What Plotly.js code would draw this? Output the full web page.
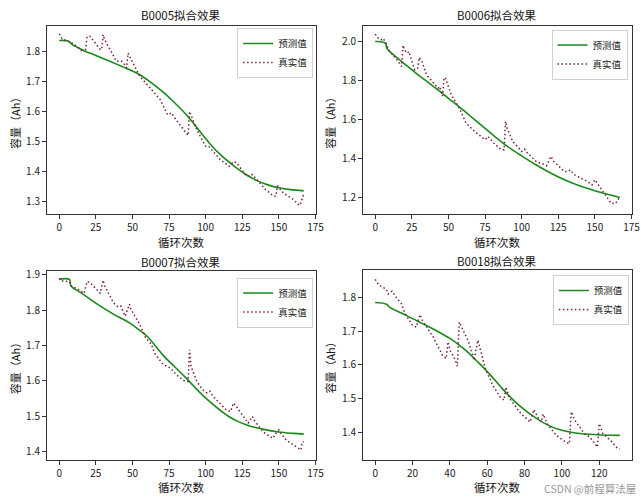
<!DOCTYPE html>
<html>
<head>
<meta charset="utf-8">
<script src="https://cdn.plot.ly/plotly-3.0.1.min.js"></script>
<style>html,body{margin:0;padding:0;background:#fff;}#chart{width:643px;height:500px;}</style>
</head>
<body>
<div id="chart"></div>
<script>
// ---- data ----
const titles = ["B0005拟合效果", "B0006拟合效果", "B0007拟合效果", "B0018拟合效果"];
const seriesNames = ["预测值", "真实值"];

const b5TrueX = [0,2,6,10,15,18,19,21,28,29,30,31,39,43,46,47,48,53,55,61,69,74,77,78,87,88,89,91,94,100,102,110,116,119,121,128,132,141,146,148,149,153,160,164,165,167];
const b5TrueY = [1.858,1.841,1.833,1.825,1.803,1.806,1.848,1.850,1.806,1.806,1.855,1.839,1.767,1.767,1.745,1.794,1.783,1.733,1.717,1.684,1.639,1.589,1.595,1.584,1.525,1.520,1.600,1.578,1.539,1.484,1.484,1.440,1.418,1.433,1.430,1.384,1.390,1.340,1.320,1.318,1.353,1.329,1.307,1.287,1.296,1.326];
const b5PredX = [0,6,9,17,25,35,46,55,63,71,79,87,95,103,111,119,127,135,143,150,158,167];
const b5PredY = [1.836,1.834,1.822,1.802,1.786,1.766,1.743,1.722,1.695,1.664,1.628,1.588,1.540,1.492,1.452,1.420,1.392,1.370,1.355,1.346,1.340,1.336];

const b6TrueX = [0,2,4,5,6,8,9,11,13,16,17,18,19,20,22,23,24,27,29,30,32,35,41,43,44,46,47,48,52,58,62,68,75,77,81,86,88,89,90,94,100,102,104,110,116,117,120,122,129,132,133,136,145,148,150,153,157,161,164,166,167];
const b6TrueY = [2.038,2.017,2.009,2.017,2.009,1.983,1.957,1.940,1.923,1.897,1.880,1.872,1.981,1.957,1.940,1.949,1.923,1.854,1.863,1.918,1.897,1.829,1.777,1.760,1.769,1.720,1.815,1.810,1.726,1.649,1.580,1.537,1.495,1.512,1.478,1.443,1.443,1.589,1.555,1.486,1.435,1.447,1.426,1.383,1.366,1.361,1.409,1.383,1.332,1.332,1.340,1.315,1.280,1.263,1.289,1.255,1.212,1.169,1.166,1.190,1.186];
const b6PredX = [0,5,7,8,10,14,20,25,30,37,44,50,58,66,75,83,90,100,110,120,130,140,150,160,167];
const b6PredY = [2.000,1.998,1.990,1.965,1.948,1.922,1.885,1.855,1.825,1.785,1.745,1.708,1.660,1.610,1.553,1.503,1.462,1.412,1.365,1.323,1.287,1.257,1.233,1.212,1.198];

const b7TrueX = [0,1,7,8,12,15,17,19,21,25,28,30,31,37,40,42,45,48,49,55,59,63,65,71,76,80,86,88,89,90,94,98,101,103,105,114,117,119,121,129,132,133,139,144,146,148,150,151,155,162,165,166,167];
const b7TrueY = [1.890,1.883,1.881,1.869,1.861,1.854,1.848,1.881,1.878,1.861,1.848,1.885,1.869,1.821,1.810,1.812,1.783,1.817,1.802,1.760,1.722,1.703,1.679,1.646,1.636,1.617,1.598,1.598,1.688,1.641,1.598,1.575,1.565,1.570,1.556,1.518,1.513,1.537,1.527,1.480,1.499,1.489,1.456,1.442,1.437,1.451,1.461,1.453,1.432,1.413,1.404,1.427,1.427];
const b7PredX = [0,7,8,15,26,37,48,55,60,66,71,77,82,87,93,99,105,111,116,122,130,139,150,160,167];
const b7PredY = [1.888,1.887,1.869,1.849,1.817,1.789,1.764,1.743,1.726,1.697,1.672,1.647,1.627,1.606,1.580,1.555,1.533,1.513,1.498,1.485,1.472,1.463,1.455,1.451,1.449];

const b18TrueX = [0,2,6,7,9,11,14,16,20,22,24,25,31,36,38,39,40,43,44,45,50,53,55,57,59,63,67,69,70,72,78,83,85,87,89,90,92,97,102,104,105,107,112,115,119,120,122,126,130,131];
const b18TrueY = [1.855,1.838,1.825,1.811,1.820,1.803,1.783,1.753,1.718,1.713,1.750,1.735,1.684,1.629,1.619,1.669,1.644,1.614,1.596,1.728,1.669,1.614,1.674,1.634,1.589,1.539,1.504,1.495,1.534,1.500,1.455,1.430,1.467,1.445,1.430,1.453,1.425,1.390,1.370,1.365,1.460,1.435,1.395,1.385,1.355,1.425,1.395,1.375,1.350,1.350];
const b18PredX = [0,6,8,14,20,29,35,40,45,50,54,58,61,65,68,74,80,86,92,98,105,112,119,131];
const b18PredY = [1.786,1.781,1.771,1.755,1.738,1.713,1.695,1.679,1.659,1.636,1.614,1.592,1.574,1.549,1.530,1.495,1.466,1.442,1.422,1.408,1.399,1.394,1.392,1.390];

const predX = [b5PredX, b6PredX, b7PredX, b18PredX];
const predY = [b5PredY, b6PredY, b7PredY, b18PredY];
const trueX = [b5TrueX, b6TrueX, b7TrueX, b18TrueX];
const trueY = [b5TrueY, b6TrueY, b7TrueY, b18TrueY];

const xTitle = "循环次数";
const yTitle = "容量（Ah）";
const watermark = "CSDN @前程算法屋";

// ---- layout geometry ----
const FONT = '"Noto Sans CJK SC", "Noto Sans", sans-serif';
const xDomains = [[0.0731,0.4914],[0.5645,0.9829],[0.0731,0.4914],[0.5645,0.9829]];
const yDomains = [[0.572,0.948],[0.572,0.948],[0.081,0.458],[0.081,0.46]];
const xRanges = [[-8.35,175.35],[-8.35,175.35],[-8.35,175.35],[-6.55,137.55]];
const yRanges = [[1.259,1.884],[1.113,2.080],[1.377,1.911],[1.318,1.883]];
const xDticks = [25,25,25,20];
const yDticks = [0.1,0.2,0.1,0.1];
const legendPos = [[0.487,0.944],[0.976,0.941],[0.487,0.445],[0.978,0.450]];
const titleY = [0.970,0.970,0.476,0.478];
const xTitleY = [0.516,0.516,0.027,0.027];
const yTitleX = [0.0233,0.513,0.0233,0.513];

const traces = [];
const layout = {
  width: 643, height: 500,
  margin: {l:0, r:0, t:0, b:0},
  paper_bgcolor: '#fff', plot_bgcolor: '#fff',
  font: {family: FONT, size: 10, color: '#222'},
  showlegend: true,
  annotations: []
};

for (let i = 0; i < 4; i++) {
  const s = i === 0 ? '' : String(i + 1);
  const leg = i === 0 ? 'legend' : 'legend' + (i + 1);
  traces.push({
    x: predX[i], y: predY[i], type: 'scatter', mode: 'lines', name: seriesNames[0],
    xaxis: 'x' + s, yaxis: 'y' + s, legend: leg,
    line: {color: '#1a8a1a', width: 1.6, shape: 'spline', smoothing: 1}
  });
  traces.push({
    x: trueX[i], y: trueY[i], type: 'scatter', mode: 'lines', name: seriesNames[1],
    xaxis: 'x' + s, yaxis: 'y' + s, legend: leg,
    line: {color: '#7a1f3a', width: 1.5, dash: '1.5px,2.5px'}
  });
  const axCommon = {
    showgrid: false, zeroline: false, showline: true, mirror: true,
    linecolor: '#333', linewidth: 1, ticks: 'outside', ticklen: 4, tickwidth: 1,
    tickcolor: '#333', tickfont: {family: FONT, size: 10, color: '#222'}
  };
  layout['xaxis' + s] = Object.assign({}, axCommon, {
    domain: xDomains[i], range: xRanges[i], anchor: 'y' + s,
    tick0: 0, dtick: xDticks[i]
  });
  layout['yaxis' + s] = Object.assign({}, axCommon, {
    domain: yDomains[i], range: yRanges[i], anchor: 'x' + s,
    tick0: 0, dtick: yDticks[i], tickformat: '.1f'
  });
  layout[leg] = {
    x: legendPos[i][0], y: legendPos[i][1], xanchor: 'right', yanchor: 'top',
    xref: 'paper', yref: 'paper',
    bgcolor: 'rgba(255,255,255,0.85)', bordercolor: '#d0d0d0', borderwidth: 1,
    font: {family: FONT, size: 9.5, color: '#222'},
    itemwidth: 30, tracegroupgap: 0
  };
  // subplot title
  layout.annotations.push({
    text: titles[i], xref: 'paper', yref: 'paper',
    x: (xDomains[i][0] + xDomains[i][1]) / 2, y: titleY[i],
    xanchor: 'center', yanchor: 'middle', showarrow: false,
    font: {family: FONT, size: 11.5, color: '#111'}
  });
  // x axis title
  layout.annotations.push({
    text: xTitle, xref: 'paper', yref: 'paper',
    x: (xDomains[i][0] + xDomains[i][1]) / 2, y: xTitleY[i],
    xanchor: 'center', yanchor: 'middle', showarrow: false,
    font: {family: FONT, size: 11.5, color: '#111'}
  });
  // y axis title
  layout.annotations.push({
    text: yTitle, xref: 'paper', yref: 'paper', textangle: -90,
    x: yTitleX[i], y: (yDomains[i][0] + yDomains[i][1]) / 2,
    xanchor: 'center', yanchor: 'middle', showarrow: false,
    font: {family: FONT, size: 11, color: '#111'}
  });
}
layout.annotations.push({
  text: watermark, xref: 'paper', yref: 'paper', x: 0.993, y: 0.024,
  xanchor: 'right', yanchor: 'middle', showarrow: false,
  font: {family: FONT, size: 10.5, color: '#9a9a9a'}
});

Plotly.newPlot('chart', traces, layout, {displayModeBar: false, staticPlot: true});
</script>
</body>
</html>
